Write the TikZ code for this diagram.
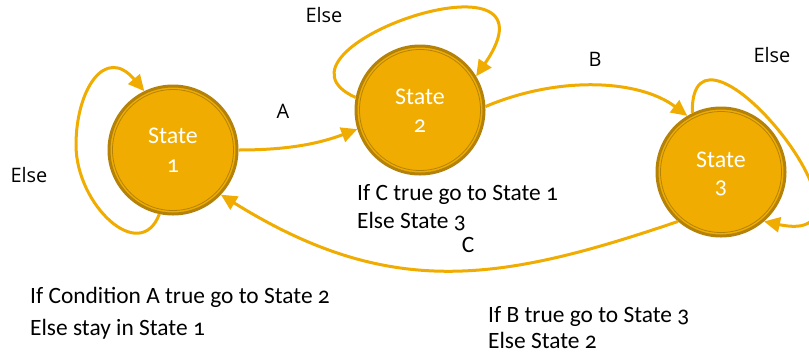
\documentclass[tikz,border=0pt]{standalone}
\usepackage{fontspec}
\setmainfont{Carlito}[Numbers=OldStyle]
\newfontfamily\labfont{Open Sans}
\usetikzlibrary{arrows.meta}
\definecolor{stfill}{RGB}{240,172,0}
\definecolor{stdark}{RGB}{180,130,8}
\definecolor{edgecol}{RGB}{240,172,0}
\begin{document}
\begin{tikzpicture}[x=1bp,y=-1bp,
  statenode/.style={circle, fill=stfill, draw=stdark, line width=3bp, minimum size=128bp, inner sep=0pt},
  innerring/.style={draw=stdark, line width=0.8bp},
  statetext/.style={text=white, font=\fontsize{24}{28}\selectfont, anchor=base, inner sep=0pt},
  edge/.style={draw=edgecol, line width=3bp, -{Triangle[length=16bp,width=15bp]}},
  lab/.style={font=\labfont\fontsize{20}{24}\selectfont, anchor=base, inner sep=0pt},
  desc/.style={font=\fontsize{23.5}{28}\selectfont, anchor=base west, inner sep=0pt},
]
\useasboundingbox (0,0) rectangle (809,357);

% states
\node[statenode] (s1) at (173,150) {};
\node[statenode] (s2) at (420,110) {};
\node[statenode] (s3) at (721,172) {};
\draw[innerring] (s1.center) circle[radius=60.5bp];
\draw[innerring] (s2.center) circle[radius=60.5bp];
\draw[innerring] (s3.center) circle[radius=60.5bp];

\node[statetext] (t1a) at (173,143) {State};
\node[statetext] (t1b) at (173,172) {1};
\node[statetext] (t2a) at (420,104) {State};
\node[statetext] (t2b) at (420,132) {2};
\node[statetext] (t3a) at (721,167) {State};
\node[statetext] (t3b) at (721,193) {3};

% coordinates for loops
\coordinate (l1) at (76,145);

% transitions
\draw[edge] (s1.0) .. controls (288,150) and (319,143.6) .. (s2.197);
\draw[edge] (s2.3) .. controls (560,75) and (640,80) .. (s3.121);
\draw[edge] (s3.229) .. controls (500,282) and (390,300) .. (s1.317);

% self loops
\draw[edge] (s1.258) .. controls (140,265) and (76,205) .. (l1) .. controls (76,90) and (105,45) .. (s1.116);
\draw[edge] (s2.169) .. controls (250,50) and (570,-60) .. (s2.31);
\draw[edge] (s3.116) .. controls (690,-10) and (900,250) .. (s3.311);

% labels
\node[lab] (else1) at (29,182) {Else};
\node[lab] (else2) at (324,22) {Else};
\node[lab] (else3) at (772,62) {Else};
\node[lab] (la) at (283,118) {A};
\node[lab] (lb) at (595,66) {B};
\node[statetext, text=black, font=\fontsize{23.5}{28}\selectfont] (lc) at (468,252) {C};

% descriptions
\node[desc] (d1a) at (30,303) {If Condition A true go to State 2};
\node[desc] (d1b) at (30,335) {Else stay in State 1};
\node[desc] (d2a) at (357,200) {If C true go to State 1};
\node[desc] (d2b) at (357,228) {Else State 3};
\node[desc] (d3a) at (488,322) {If B true go to State 3};
\node[desc] (d3b) at (488,348) {Else State 2};
\end{tikzpicture}
\end{document}
